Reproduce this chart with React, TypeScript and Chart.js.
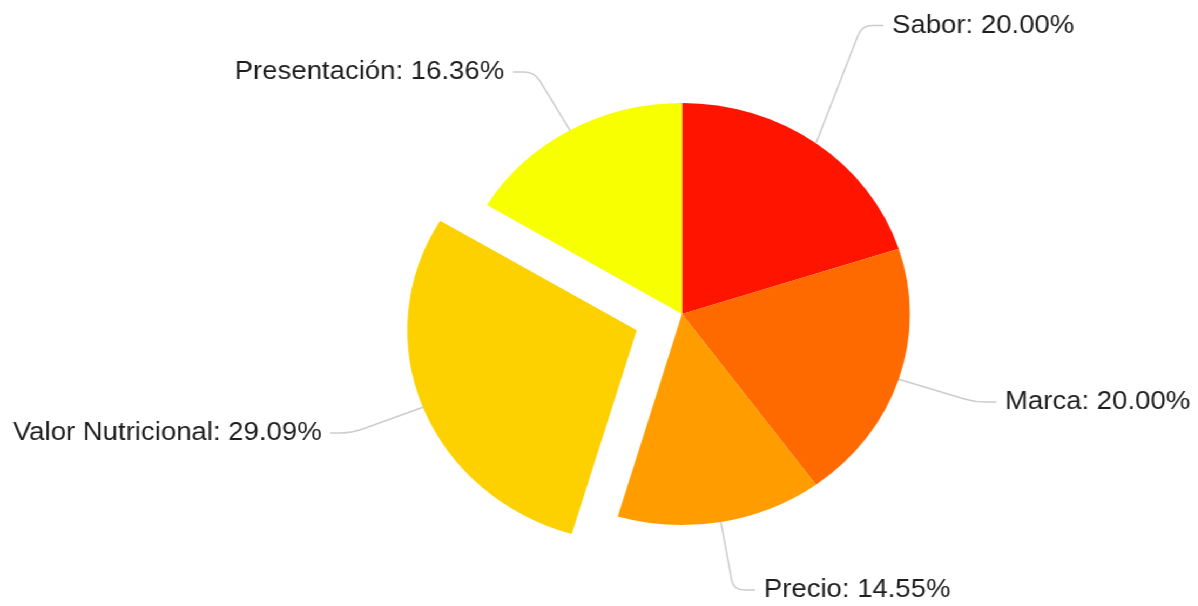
import { useEffect, useRef } from 'react';
import { Chart, registerables } from 'chart.js';

Chart.register(...registerables);

// ---- data ----
const categories = ['Sabor', 'Marca', 'Precio', 'Valor Nutricional', 'Presentación'];
const percentages = [20.0, 20.0, 14.55, 29.09, 16.36];
const sliceColors = ['#ff1400', '#ff6a00', '#ff9c00', '#fdd000', '#f8ff00'];
const explodedCategory = 'Valor Nutricional';

// ---- layout (not data) ----
const STRETCH = 1.08; // the reference is slightly wider than tall
const CANVAS_W = 1109;
const CANVAS_H = 606;
const leaderExt = [122, 74, 69, 72, 67];
const leaderShiftDeg = [-6, 0, 0, 0, 0];
const HSEG = 20;
const GAP = 8;
const LABEL_FONT = '25.5px "Liberation Sans", Arial, sans-serif';

const labelPlugin = {
  id: 'pieLabels',
  afterDatasetsDraw(chart: any) {
    const ctx = chart.ctx as CanvasRenderingContext2D;
    const meta = chart.getDatasetMeta(0);
    const values = chart.data.datasets[0].data as number[];
    const labels = chart.data.labels as string[];
    meta.data.forEach((arc: any, i: number) => {
      const p = arc.getProps(['x', 'y', 'startAngle', 'endAngle', 'outerRadius'], true);
      const off = (arc.options.offset || 0) / 4;
      const mid = (p.startAngle + p.endAngle) / 2;
      const ox = p.x + Math.cos(mid) * off;
      const oy = p.y + Math.sin(mid) * off;
      const sx = ox + Math.cos(mid) * p.outerRadius;
      const sy = oy + Math.sin(mid) * p.outerRadius;
      const a2 = mid + (leaderShiftDeg[i] * Math.PI) / 180;
      const rr = p.outerRadius + leaderExt[i];
      const ex = ox + Math.cos(a2) * rr;
      const ey = oy + Math.sin(a2) * rr;
      const dir = Math.cos(mid) >= 0 ? 1 : -1;
      const hx = ex + dir * HSEG;

      // leader line with a rounded elbow
      const dx = ex - sx;
      const dy = ey - sy;
      const len = Math.hypot(dx, dy) || 1;
      const c = Math.min(10, len / 2);
      ctx.save();
      ctx.strokeStyle = '#cccccc';
      ctx.lineWidth = 1.5;
      ctx.beginPath();
      ctx.moveTo(sx, sy);
      ctx.lineTo(ex - (dx / len) * c, ey - (dy / len) * c);
      ctx.quadraticCurveTo(ex, ey, ex + dir * Math.min(c, HSEG), ey);
      ctx.lineTo(hx, ey);
      ctx.stroke();

      ctx.fillStyle = '#1e1e1e';
      ctx.font = LABEL_FONT;
      ctx.textBaseline = 'middle';
      ctx.textAlign = dir > 0 ? 'left' : 'right';
      const text = `${labels[i]}: ${values[i].toFixed(2)}%`;
      ctx.fillText(text, hx + dir * GAP, ey);
      ctx.restore();
    });
  },
};

export default function App() {
  const canvasRef = useRef<HTMLCanvasElement | null>(null);

  useEffect(() => {
    document.body.style.margin = '0';
    const canvas = canvasRef.current;
    if (!canvas) return;
    const chart = new Chart(canvas, {
      type: 'pie',
      data: {
        labels: categories,
        datasets: [
          {
            data: percentages,
            backgroundColor: sliceColors,
            borderWidth: 0,
            offset: categories.map((c) => (c === explodedCategory ? 180 : 0)),
          },
        ],
      },
      options: {
        animation: false,
        responsive: true,
        maintainAspectRatio: false,
        radius: 211,
        layout: { padding: { left: 154, right: 0, top: 22, bottom: 0 } },
        plugins: {
          legend: { display: false },
          tooltip: { enabled: false },
        },
      } as any,
      plugins: [labelPlugin],
    });
    return () => chart.destroy();
  }, []);

  return (
    <div
      style={{
        width: CANVAS_W,
        height: CANVAS_H,
        transform: `scaleX(${STRETCH})`,
        transformOrigin: '0 0',
        background: '#ffffff',
      }}
    >
      <canvas ref={canvasRef} />
    </div>
  );
}
